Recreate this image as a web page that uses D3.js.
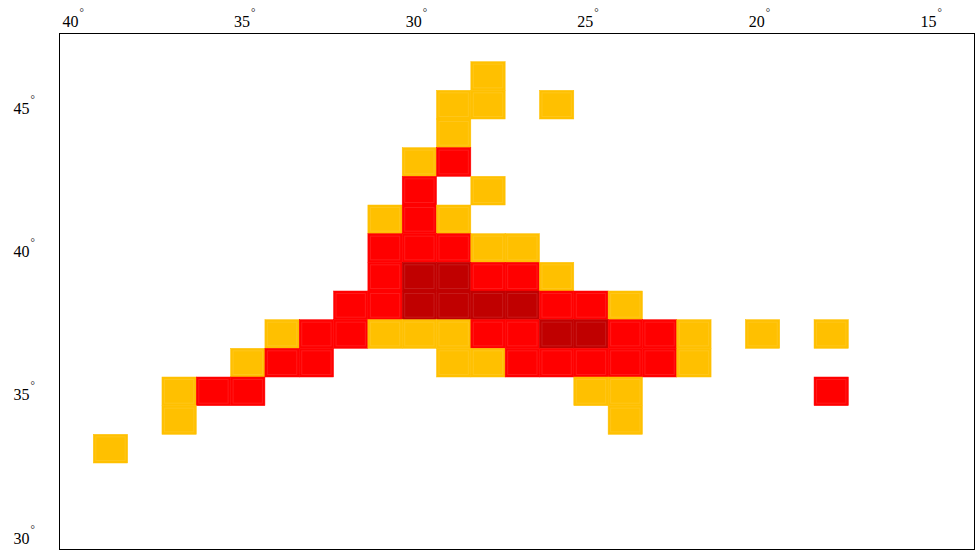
<!DOCTYPE html>
<html>
<head>
<meta charset="utf-8">
<script src="https://cdn.jsdelivr.net/npm/d3@7"></script>
<style>
  html, body { margin: 0; padding: 0; background: #fff; }
  svg { display: block; }
  text { font-family: "Liberation Serif", "DejaVu Serif", serif; fill: #000; }
</style>
</head>
<body>
<svg id="chart" width="980" height="555"></svg>
<script>
(function () {
// ---- data ----
const xTicks = [40, 35, 30, 25, 20, 15];
const yTicks = [45, 40, 35, 30];
const levelNames = [1, 2, 3];
const levelColors = ["#FFC000", "#FF0000", "#C00000"];

const cellLon = [
  28,
  29, 28, 26,
  29,
  30, 29,
  30, 28,
  31, 30, 29,
  31, 30, 29, 28, 27,
  31, 30, 29, 28, 27, 26,
  32, 31, 30, 29, 28, 27, 26, 25, 24,
  34, 33, 32, 31, 30, 29, 28, 27, 26, 25, 24, 23, 22, 20, 18,
  35, 34, 33, 29, 28, 27, 26, 25, 24, 23, 22,
  37, 36, 35, 25, 24, 18,
  37, 24,
  39
];
const cellLat = [
  46,
  45, 45, 45,
  44,
  43, 43,
  42, 42,
  41, 41, 41,
  40, 40, 40, 40, 40,
  39, 39, 39, 39, 39, 39,
  38, 38, 38, 38, 38, 38, 38, 38, 38,
  37, 37, 37, 37, 37, 37, 37, 37, 37, 37, 37, 37, 37, 37, 37,
  36, 36, 36, 36, 36, 36, 36, 36, 36, 36, 36,
  35, 35, 35, 35, 35, 35,
  34, 34,
  33
];
const cellLevel = [
  1,
  1, 1, 1,
  1,
  1, 2,
  2, 1,
  1, 2, 1,
  2, 2, 2, 1, 1,
  2, 3, 3, 2, 2, 1,
  2, 2, 3, 3, 3, 3, 2, 2, 1,
  1, 2, 2, 1, 1, 1, 2, 2, 3, 3, 2, 2, 1, 1, 1,
  1, 2, 2, 1, 1, 2, 2, 2, 2, 2, 1,
  1, 2, 2, 1, 1, 2,
  1, 1,
  1
];

// ---- layout ----
const svg = d3.select("#chart");
const mLeft = 59, mRight = 975, mTop = 33, mBottom = 549;

const x = d3.scaleLinear().domain([40.5, 13.81]).range([mLeft, mRight]);
const y = d3.scaleLinear().domain([29.5, 47.5]).range([mBottom, mTop]);
const color = d3.scaleOrdinal().domain(levelNames).range(levelColors);

const cells = cellLon.map((lon, i) => ({ lon, lat: cellLat[i], level: cellLevel[i] }));

const g = svg.append("g");
const cw = Math.abs(x(0) - x(1));
const ch = Math.abs(y(0) - y(1));

g.selectAll("rect.cell")
  .data(cells)
  .join("rect")
  .attr("class", "cell")
  .attr("x", d => x(d.lon + 0.5))
  .attr("y", d => y(d.lat + 0.5))
  .attr("width", cw)
  .attr("height", ch)
  .attr("fill", d => color(d.level))
  .attr("stroke", d => color(d.level))
  .attr("stroke-width", 0.5);

// faint inner outlines (rendering artefacts of the original)
g.selectAll("rect.inner")
  .data(cells)
  .join("rect")
  .attr("class", "inner")
  .attr("x", d => x(d.lon + 0.5) + 2.5)
  .attr("y", d => y(d.lat + 0.5) + 2.5)
  .attr("width", cw - 5)
  .attr("height", ch - 5)
  .attr("fill", "none")
  .attr("stroke", "#fff")
  .attr("stroke-opacity", 0.1)
  .attr("stroke-width", 1);

// frame
svg.append("rect")
  .attr("x", mLeft + 0.5).attr("y", mTop + 0.5)
  .attr("width", mRight - mLeft - 1).attr("height", mBottom - mTop)
  .attr("fill", "none").attr("stroke", "#000").attr("stroke-width", 1);

// x tick labels (top)
const xl = svg.append("g").selectAll("text")
  .data(xTicks)
  .join("text")
  .attr("x", d => x(d) - 3)
  .attr("y", 27)
  .attr("text-anchor", "middle")
  .style("font-size", "16px");
xl.append("tspan").text(d => d);
xl.append("tspan").attr("dy", -11).attr("dx", 1).style("font-size", "11px").text("°");

// y tick labels (left)
const yl = svg.append("g").selectAll("text")
  .data(yTicks)
  .join("text")
  .attr("x", 35)
  .attr("y", d => y(d) + 9)
  .attr("text-anchor", "end")
  .style("font-size", "16px");
yl.append("tspan").text(d => d);
yl.append("tspan").attr("dy", -11).attr("dx", 1).style("font-size", "11px").text("°");
})();
</script>
</body>
</html>
